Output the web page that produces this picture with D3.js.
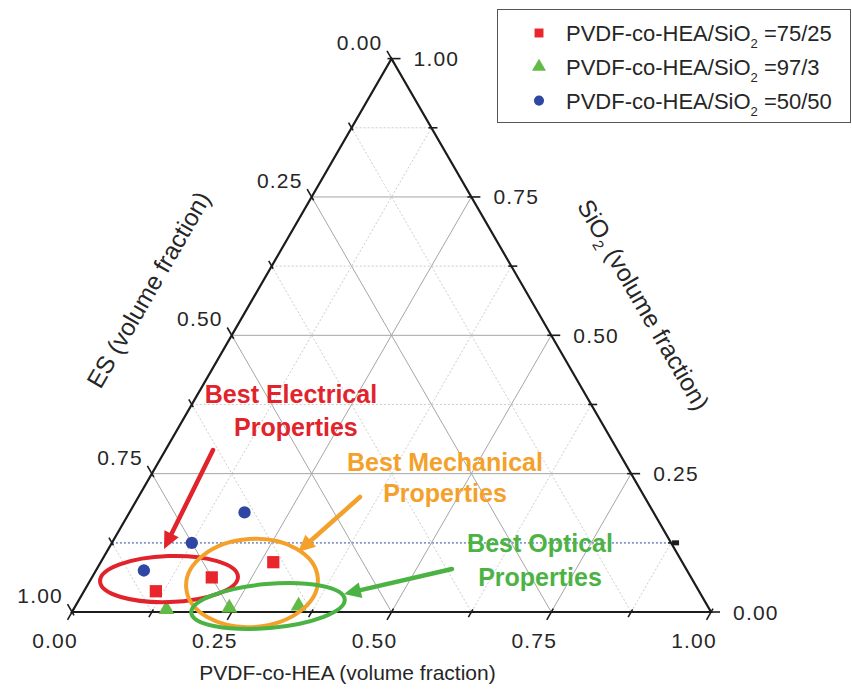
<!DOCTYPE html>
<html><head><meta charset="utf-8">
<script src="https://cdn.jsdelivr.net/npm/d3@7"></script>
<style>
html,body{margin:0;padding:0;background:#fff;}
svg{display:block;font-family:"Liberation Sans",Arial,Helvetica,sans-serif;}
</style></head>
<body><svg id="chart" width="852" height="691"></svg>
<script>
// Sample compositions (volume fractions). ES = 1 - PVDF-co-HEA - SiO2.
const seriesNames = ["75/25", "97/3", "50/50"];
const esFraction = [0.85, 0.75, 0.64];
const pvdf7525 = [0.1125, 0.1875, 0.27];
const sio27525 = [0.0375, 0.0625, 0.09];
const pvdf973 = [0.1455, 0.2425, 0.3492];
const sio2973 = [0.0045, 0.0075, 0.0108];
const pvdf5050 = [0.075, 0.125, 0.18];
const sio25050 = [0.075, 0.125, 0.18];

// Axis ticks
const tickValues = [0, 0.25, 0.5, 0.75, 1];
const tickLabels = ["0.00", "0.25", "0.50", "0.75", "1.00"];
const minorValues = [0.125, 0.375, 0.625, 0.875];

// Call-outs, placed in (PVDF-co-HEA, SiO2) composition space
const calloutText = [
  {lines: ["Best Electrical", "Properties"], at: [[0.1457, 0.3939], [0.1833, 0.3343]], color: "#e1232c"},
  {lines: ["Best Mechanical", "Properties"], at: [[0.4482, 0.2711], [0.4762, 0.2150]], color: "#f4a12b"},
  {lines: ["Best Optical", "Properties"], at: [[0.6701, 0.1247], [0.7008, 0.0632]], color: "#4bb344"}
];
const calloutRings = [
  {c: [0.122, 0.0596], rx: 69, ry: 23, rot: -2, color: "#e1232c"},
  {c: [0.2555, 0.0524], rx: 66, ry: 44, rot: -4, color: "#f4a12b"},
  {c: [0.3013, 0.0108], rx: 77, ry: 22, rot: -5, color: "#4bb344"}
];
const calloutArrows = [
  {from: [0.0743, 0.2927], to: [0.0871, 0.1138], color: "#e1232c"},
  {from: [0.3468, 0.2078], to: [0.2995, 0.1084], color: "#f4a12b"},
  {from: [0.5558, 0.0777], to: [0.4094, 0.0325], color: "#4bb344"}
];

const svg = d3.select("#chart");
const side = 639;
const xs = d3.scaleLinear().domain([0, 1]).range([72, 72 + side]);
const ys = d3.scaleLinear().domain([0, 1]).range([612, 612 - side * Math.sqrt(3) / 2]);
// ternary -> screen: p = PVDF-co-HEA, s = SiO2
const pos = (p, s) => [xs(p + s / 2), ys(s)];

const g = svg.append("g");

// grid lines
const allGrid = [...minorValues, 0.25, 0.5, 0.75];
allGrid.forEach(v => {
  const major = tickValues.includes(v);
  const lines = [
    [pos(0, v), pos(1 - v, v), "s"],          // constant SiO2
    [pos(v, 0), pos(v, 1 - v), "p"],          // constant PVDF-co-HEA
    [pos(0, 1 - v), pos(1 - v, 0), "e"]       // constant ES
  ];
  lines.forEach(([a, b, kind]) => {
    const highlight = kind === "s" && v === 0.125;
    g.append("line")
      .attr("x1", a[0]).attr("y1", a[1]).attr("x2", b[0]).attr("y2", b[1])
      .attr("stroke", highlight ? "#8797c6" : (major ? "#a6a6a6" : "#cdcdcd"))
      .attr("stroke-width", highlight ? 1.8 : 1)
      .attr("stroke-dasharray", highlight ? "2,2" : (major ? null : "2,2"));
  });
});

// triangle frame
const A = pos(0, 0), B = pos(1, 0), C = pos(0, 1);
g.append("path")
  .attr("d", `M${A}L${B}L${C}Z`)
  .attr("fill", "none").attr("stroke", "#1c1c1c").attr("stroke-width", 2.2)
  .attr("stroke-linejoin", "miter");

// ticks
const c60 = 0.5, s60 = Math.sqrt(3) / 2;
function tick(pt, dir, major) {
  const out = major ? 9 : 6, inn = major ? 4 : 3;
  g.append("line")
    .attr("x1", pt[0] + dir[0] * out).attr("y1", pt[1] + dir[1] * out)
    .attr("x2", pt[0] - dir[0] * inn).attr("y2", pt[1] - dir[1] * inn)
    .attr("stroke", "#1c1c1c").attr("stroke-width", 1.6);
}
const allTicks = [...tickValues, ...minorValues];
allTicks.forEach(v => {
  const major = tickValues.includes(v);
  tick(pos(v, 0), [-c60, s60], major);          // bottom: PVDF-co-HEA
  tick(pos(0, 1 - v), [-c60, -s60], major);     // left: ES
  tick(pos(1 - v, v), [1, 0], major);           // right: SiO2
});
// marker at the end of the highlighted SiO2 = 0.125 line
const hl = pos(1 - 0.125, 0.125);
g.append("rect").attr("x", hl[0] + 1).attr("y", hl[1] - 2.5).attr("width", 7).attr("height", 5).attr("fill", "#1c1c1c");

// tick labels
const lab = svg.append("g").attr("font-size", 21).attr("letter-spacing", 1.2).attr("fill", "#262626");
tickValues.forEach((v, i) => {
  const b = pos(v, 0);
  lab.append("text").attr("x", b[0] - 17).attr("y", b[1] + 36).attr("text-anchor", "middle").text(tickLabels[i]);
  const l = pos(0, 1 - v);
  lab.append("text").attr("x", l[0] - 9).attr("y", l[1] - 9).attr("text-anchor", "end").text(tickLabels[i]);
  const r = pos(1 - v, v);
  lab.append("text").attr("x", r[0] + 22).attr("y", r[1] + 7.5).attr("text-anchor", "start").text(tickLabels[i]);
});

// axis titles
const titles = svg.append("g").attr("fill", "#262626").attr("text-anchor", "middle");
titles.append("text").attr("font-size", 21).attr("x", (A[0] + B[0]) / 2 - 44).attr("y", 680).text("PVDF-co-HEA (volume fraction)");
titles.append("text").attr("font-size", 24.5).attr("transform", "translate(149,290) rotate(-60)").attr("dy", 8).text("ES (volume fraction)");
const sT = titles.append("text").attr("font-size", 24.5).attr("transform", "translate(643,305) rotate(60)").attr("dy", 8);
sT.append("tspan").text("SiO");
sT.append("tspan").attr("font-size", 15).attr("dy", 6).text("2");
sT.append("tspan").attr("dy", -6).text(" (volume fraction)");

// data series
const colors = ["#e8262b", "#62bb46", "#2f46a2"];
const symbols = [d3.symbolSquare, d3.symbolTriangle, d3.symbolCircle];
const sizes = [150, 110, 120];
const series = [
  {pvdf: pvdf7525, sio2: sio27525},
  {pvdf: pvdf973, sio2: sio2973},
  {pvdf: pvdf5050, sio2: sio25050}
];
const pts = svg.append("g");
series.forEach((s, k) => {
  const rows = esFraction.map((e, i) => ({p: s.pvdf[i], s: s.sio2[i], e}));
  pts.selectAll(null).data(rows).join("path")
    .attr("transform", d => `translate(${pos(d.p, d.s)})`)
    .attr("d", d3.symbol(symbols[k], sizes[k]))
    .attr("fill", colors[k]);
});

// call-outs
const ann = svg.append("g");
calloutRings.forEach(r => {
  const c = pos(...r.c);
  ann.append("ellipse")
    .attr("transform", `translate(${c}) rotate(${r.rot})`)
    .attr("rx", r.rx).attr("ry", r.ry)
    .attr("fill", "none").attr("stroke", r.color).attr("stroke-width", 4);
});
calloutArrows.forEach(a => {
  const f = pos(...a.from), t = pos(...a.to);
  const ang = Math.atan2(t[1] - f[1], t[0] - f[0]);
  const hlen = 17, hw = 8;
  const base = [t[0] - Math.cos(ang) * hlen, t[1] - Math.sin(ang) * hlen];
  ann.append("line")
    .attr("x1", f[0]).attr("y1", f[1]).attr("x2", base[0]).attr("y2", base[1])
    .attr("stroke", a.color).attr("stroke-width", 4.5).attr("stroke-linecap", "round");
  const nx = -Math.sin(ang), ny = Math.cos(ang);
  ann.append("path")
    .attr("d", `M${t}L${base[0] + nx * hw},${base[1] + ny * hw}L${base[0] - nx * hw},${base[1] - ny * hw}Z`)
    .attr("fill", a.color);
});
calloutText.forEach(c => {
  c.lines.forEach((line, i) => {
    const p = pos(...c.at[i]);
    ann.append("text")
      .attr("x", p[0]).attr("y", p[1] + 9)
      .attr("text-anchor", "middle")
      .attr("font-size", 25).attr("font-weight", "bold")
      .attr("fill", c.color).text(line);
  });
});

// legend
const leg = svg.append("g");
leg.append("rect").attr("x", 497.5).attr("y", 9.5).attr("width", 353).attr("height", 113)
  .attr("fill", "#fff").attr("stroke", "#555").attr("stroke-width", 1);
const legendSizes = [80, 85, 80];
seriesNames.forEach((name, k) => {
  const cy = 33 + k * 33.8;
  leg.append("path")
    .attr("transform", `translate(539,${cy})`)
    .attr("d", d3.symbol(symbols[k], legendSizes[k]))
    .attr("fill", colors[k]);
  const t = leg.append("text").attr("x", 566).attr("y", cy + 8).attr("font-size", 22).attr("fill", "#262626");
  t.append("tspan").text("PVDF-co-HEA/SiO");
  t.append("tspan").attr("font-size", 13).attr("dy", 7).text("2");
  t.append("tspan").attr("dy", -7).text(" =" + name);
});
</script>
</body></html>
